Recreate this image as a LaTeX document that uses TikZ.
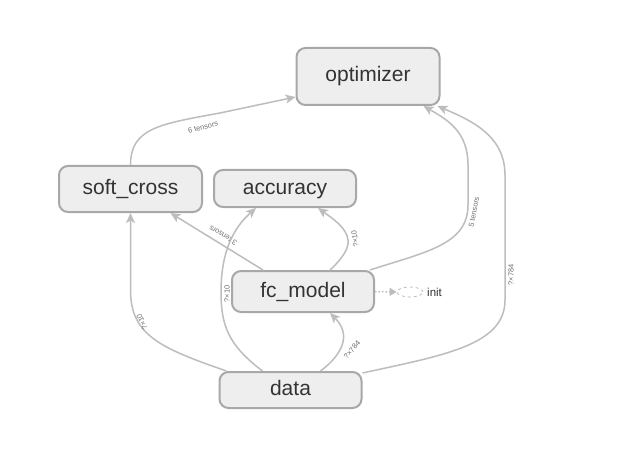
\documentclass[tikz,border=0pt]{standalone}
\usepackage{fontspec}
\setmainfont{Liberation Sans}
\usetikzlibrary{arrows.meta,calc,shapes.geometric}
\definecolor{boxfill}{HTML}{EEEEEE}
\definecolor{boxline}{HTML}{A8A8A8}
\definecolor{edgecol}{HTML}{BDBDBD}
\definecolor{txt}{HTML}{333333}
\definecolor{lbl}{HTML}{707070}
\begin{document}
\begin{tikzpicture}[x=1pt,y=-1pt,
  opnode/.style={draw=boxline, line width=2pt, fill=boxfill, rounded corners=9pt,
    inner sep=0pt, text=txt, font=\fontsize{21}{24}\selectfont, text height=15pt, text depth=4pt},
  flow/.style={draw=edgecol, line width=1.5pt, -{Stealth[length=10pt,width=9pt,inset=2.5pt]}},
  elabel/.style={font=\fontsize{7.5}{9}\selectfont, text=lbl, inner sep=0pt}]
\useasboundingbox (0,0) rectangle (633,460);
\fill[white] (0,0) rectangle (633,460);

% nodes
\node[opnode, minimum width=143pt, minimum height=57pt] (opt) at (368,76.5) {optimizer};
\node[opnode, minimum width=143pt, minimum height=46pt] (sc) at (130.5,189) {soft\_cross};
\node[opnode, minimum width=142pt, minimum height=37pt] (acc) at (285,188.5) {accuracy};
\node[opnode, minimum width=142pt, minimum height=41pt] (fc) at (303,291.5) {fc\_model};
\node[opnode, minimum width=142pt, minimum height=36pt] (data) at (290.5,390) {data};
\node[draw=edgecol, dashed, line width=0.8pt, ellipse, minimum width=26pt, minimum height=10pt, inner sep=0pt] (init) at (410,292) {};
\node[anchor=west, inner sep=0pt, text=txt, font=\fontsize{11.5}{13}\selectfont] (initlbl) at (427,292) {init};

% edges
\draw[flow] (sc.north) .. controls (130.5,128) and (160,124) .. (220,113)
  -- ($(opt.west)+(0,20.5)$);
\node[elabel, rotate=15] (l1) at (203,127) {6 tensors};

\draw[flow] ($(fc.north)+(-40,0)$) -- ($(sc.south)+(40,0)$);
\node[elabel, rotate=149] (l2) at (223,235.5) {3 tensors};

\draw[flow] ($(data.north)+(-28,0)$) .. controls (228,345) and (221,325) .. (221,292)
  .. controls (221,245) and (238,224) .. ($(acc.south)+(-29,0)$);
\node[elabel, rotate=90] (l3) at (227,294) {?×10};

\draw[flow] ($(fc.north)+(27,0)$) .. controls (343,258) and (349,248) .. (348,240)
  .. controls (347,228) and (332,218) .. ($(acc.south)+(33,0)$);
\node[elabel, rotate=99] (l4) at (355,239) {?×10};

\draw[flow] ($(fc.north east)+(-5,0)$) .. controls (425,252) and (468,245) .. (468,205)
  -- (468,165) .. controls (468,132) and (448,120) .. ($(opt.south east)+(-17,0)$);
\node[elabel, rotate=79] (l5) at (474,212) {5 tensors};

\draw[flow] ($(data.north east)+(0,2)$) .. controls (445,355) and (505,345) .. (505,300)
  -- (505,175) .. controls (505,135) and (470,120) .. ($(opt.south east)+(-3,0)$);
\node[elabel, rotate=90] (l6) at (511,275) {?×784};

\draw[flow] ($(data.north)+(30,0)$) .. controls (342,355) and (352,335) .. ($(fc.south)+(27,0)$);
\node[elabel, rotate=50] (l7) at (352,350) {?×784};

\draw[flow] ($(data.north west)+(8,0)$) .. controls (160,348) and (130.5,335) .. (130.5,290)
  -- (sc.south);
\node[elabel, rotate=115] (l8) at (142,322) {?×10};

\draw[draw=edgecol, line width=1.5pt, dotted, -{Triangle[length=7pt,width=8pt]}] (fc.east) -- (init.west);
\end{tikzpicture}
\end{document}
